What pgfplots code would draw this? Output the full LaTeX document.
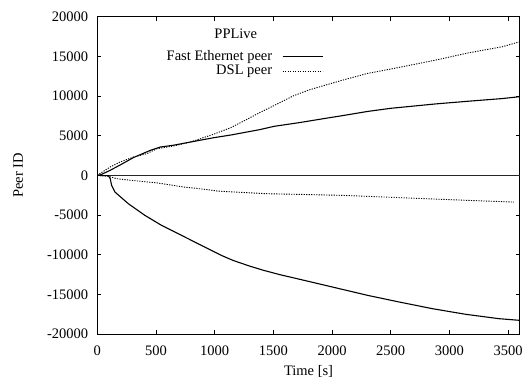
\documentclass[border=0pt]{standalone}
\usepackage{fontspec}
\setmainfont{Liberation Serif}
\usepackage{pgfplots}
\pgfplotsset{compat=1.18}
\begin{document}
\fontsize{14.5}{17}\selectfont
\begin{tikzpicture}
\useasboundingbox (-97.3pt,-45pt) rectangle (428.7pt,334pt);
\begin{axis}[
  scale only axis, width=422.5pt, height=317.3pt,
  xmin=0, xmax=3600, ymin=-20000, ymax=20000,
  xtick={0,500,...,3500}, ytick={-20000,-15000,...,20000},
  tick align=inside, major tick length=4pt,
  tick style={black, line width=0.6pt},
  /pgf/number format/assume math mode=true,
  /pgf/number format/1000 sep={},
  scaled ticks=false,
  tick label style={font=\fontsize{14.5}{17}\selectfont},
  xticklabel style={inner sep=0pt, anchor=north, yshift=-11.7pt},
  yticklabel style={inner sep=0pt, anchor=east, xshift=-9pt},
  xlabel={Time [s]}, ylabel={Peer ID},
  every axis x label/.style={at={(axis description cs:0.5,-0.118)}, anchor=center, font=\fontsize{14.5}{17}\selectfont},
  every axis y label/.style={at={(axis description cs:-0.187,0.5)}, rotate=90, anchor=center, font=\fontsize{14.5}{17}\selectfont},
  axis line style={line width=0.8pt},
  legend cell align=right, legend plot pos=right,
  legend image code/.code={\draw[#1] (0pt,0pt) -- (40pt,0pt);},
  legend style={at={(rel axis cs:0.5349,0.895)}, anchor=north east, draw=none, fill=none,
    inner sep=0pt, outer sep=0pt, row sep=1pt, font=\fontsize{14.5}{17}\selectfont,
    nodes={inner sep=0pt, text height=10pt, text depth=3.3pt},
    /tikz/every odd column/.append style={column sep=10pt}},
]
\addplot[black!85, line width=0.7pt, forget plot] coordinates {(0,0) (3600,0)};
\addplot[black, line width=1.1pt] coordinates {
(0,0) (30,80) (109,630) (200,1350) (309,2250) (452,3150) (537,3570) (650,3800) (794,4200) (994,4750) (1136,5080) (1383,5760) (1507,6180) (1723,6650) (1950,7200) (2078,7500) (2300,8050) (2500,8450) (2880,9000) (3166,9350) (3451,9680) (3600,9920)
};
\addlegendentry{Fast Ethernet peer}
\addplot[black, line width=0.9pt, dash pattern=on 1.2pt off 1.3pt] coordinates {
(0,0) (109,1050) (194,1680) (309,2316) (423,2740) (508,3360) (650,3700) (794,4200) (994,5200) (1136,6000) (1300,7250) (1383,7900) (1507,8800) (1667,10000) (1800,10750) (1950,11400) (2078,11950) (2300,12840) (2500,13400) (2880,14520) (3166,15450) (3451,16210) (3600,16840)
};
\addlegendentry{DSL peer}
\addplot[black, line width=1.1pt, forget plot] coordinates {
(0,0) (94,-50) (110,-400) (122,-1260) (150,-2100) (264,-3570) (405,-5040) (547,-6300) (717,-7560) (915,-9040) (1057,-10090) (1156,-10720) (1300,-11450) (1411,-11950) (1550,-12500) (1695,-13000) (1978,-13990) (2304,-15130) (2573,-15970) (2856,-16810) (3140,-17520) (3423,-18070) (3600,-18280)
};
\addplot[black, line width=0.9pt, dash pattern=on 1.2pt off 1.3pt, forget plot] coordinates {
(0,0) (94,-120) (166,-420) (300,-650) (508,-950) (737,-1470) (937,-1800) (1022,-1980) (1166,-2100) (1451,-2320) (1723,-2400) (2078,-2520) (2594,-2820) (3166,-3160) (3550,-3370)
};
\node at (rel axis cs:0.3278,0.9461) {PPLive};
\end{axis}
\end{tikzpicture}
\end{document}
